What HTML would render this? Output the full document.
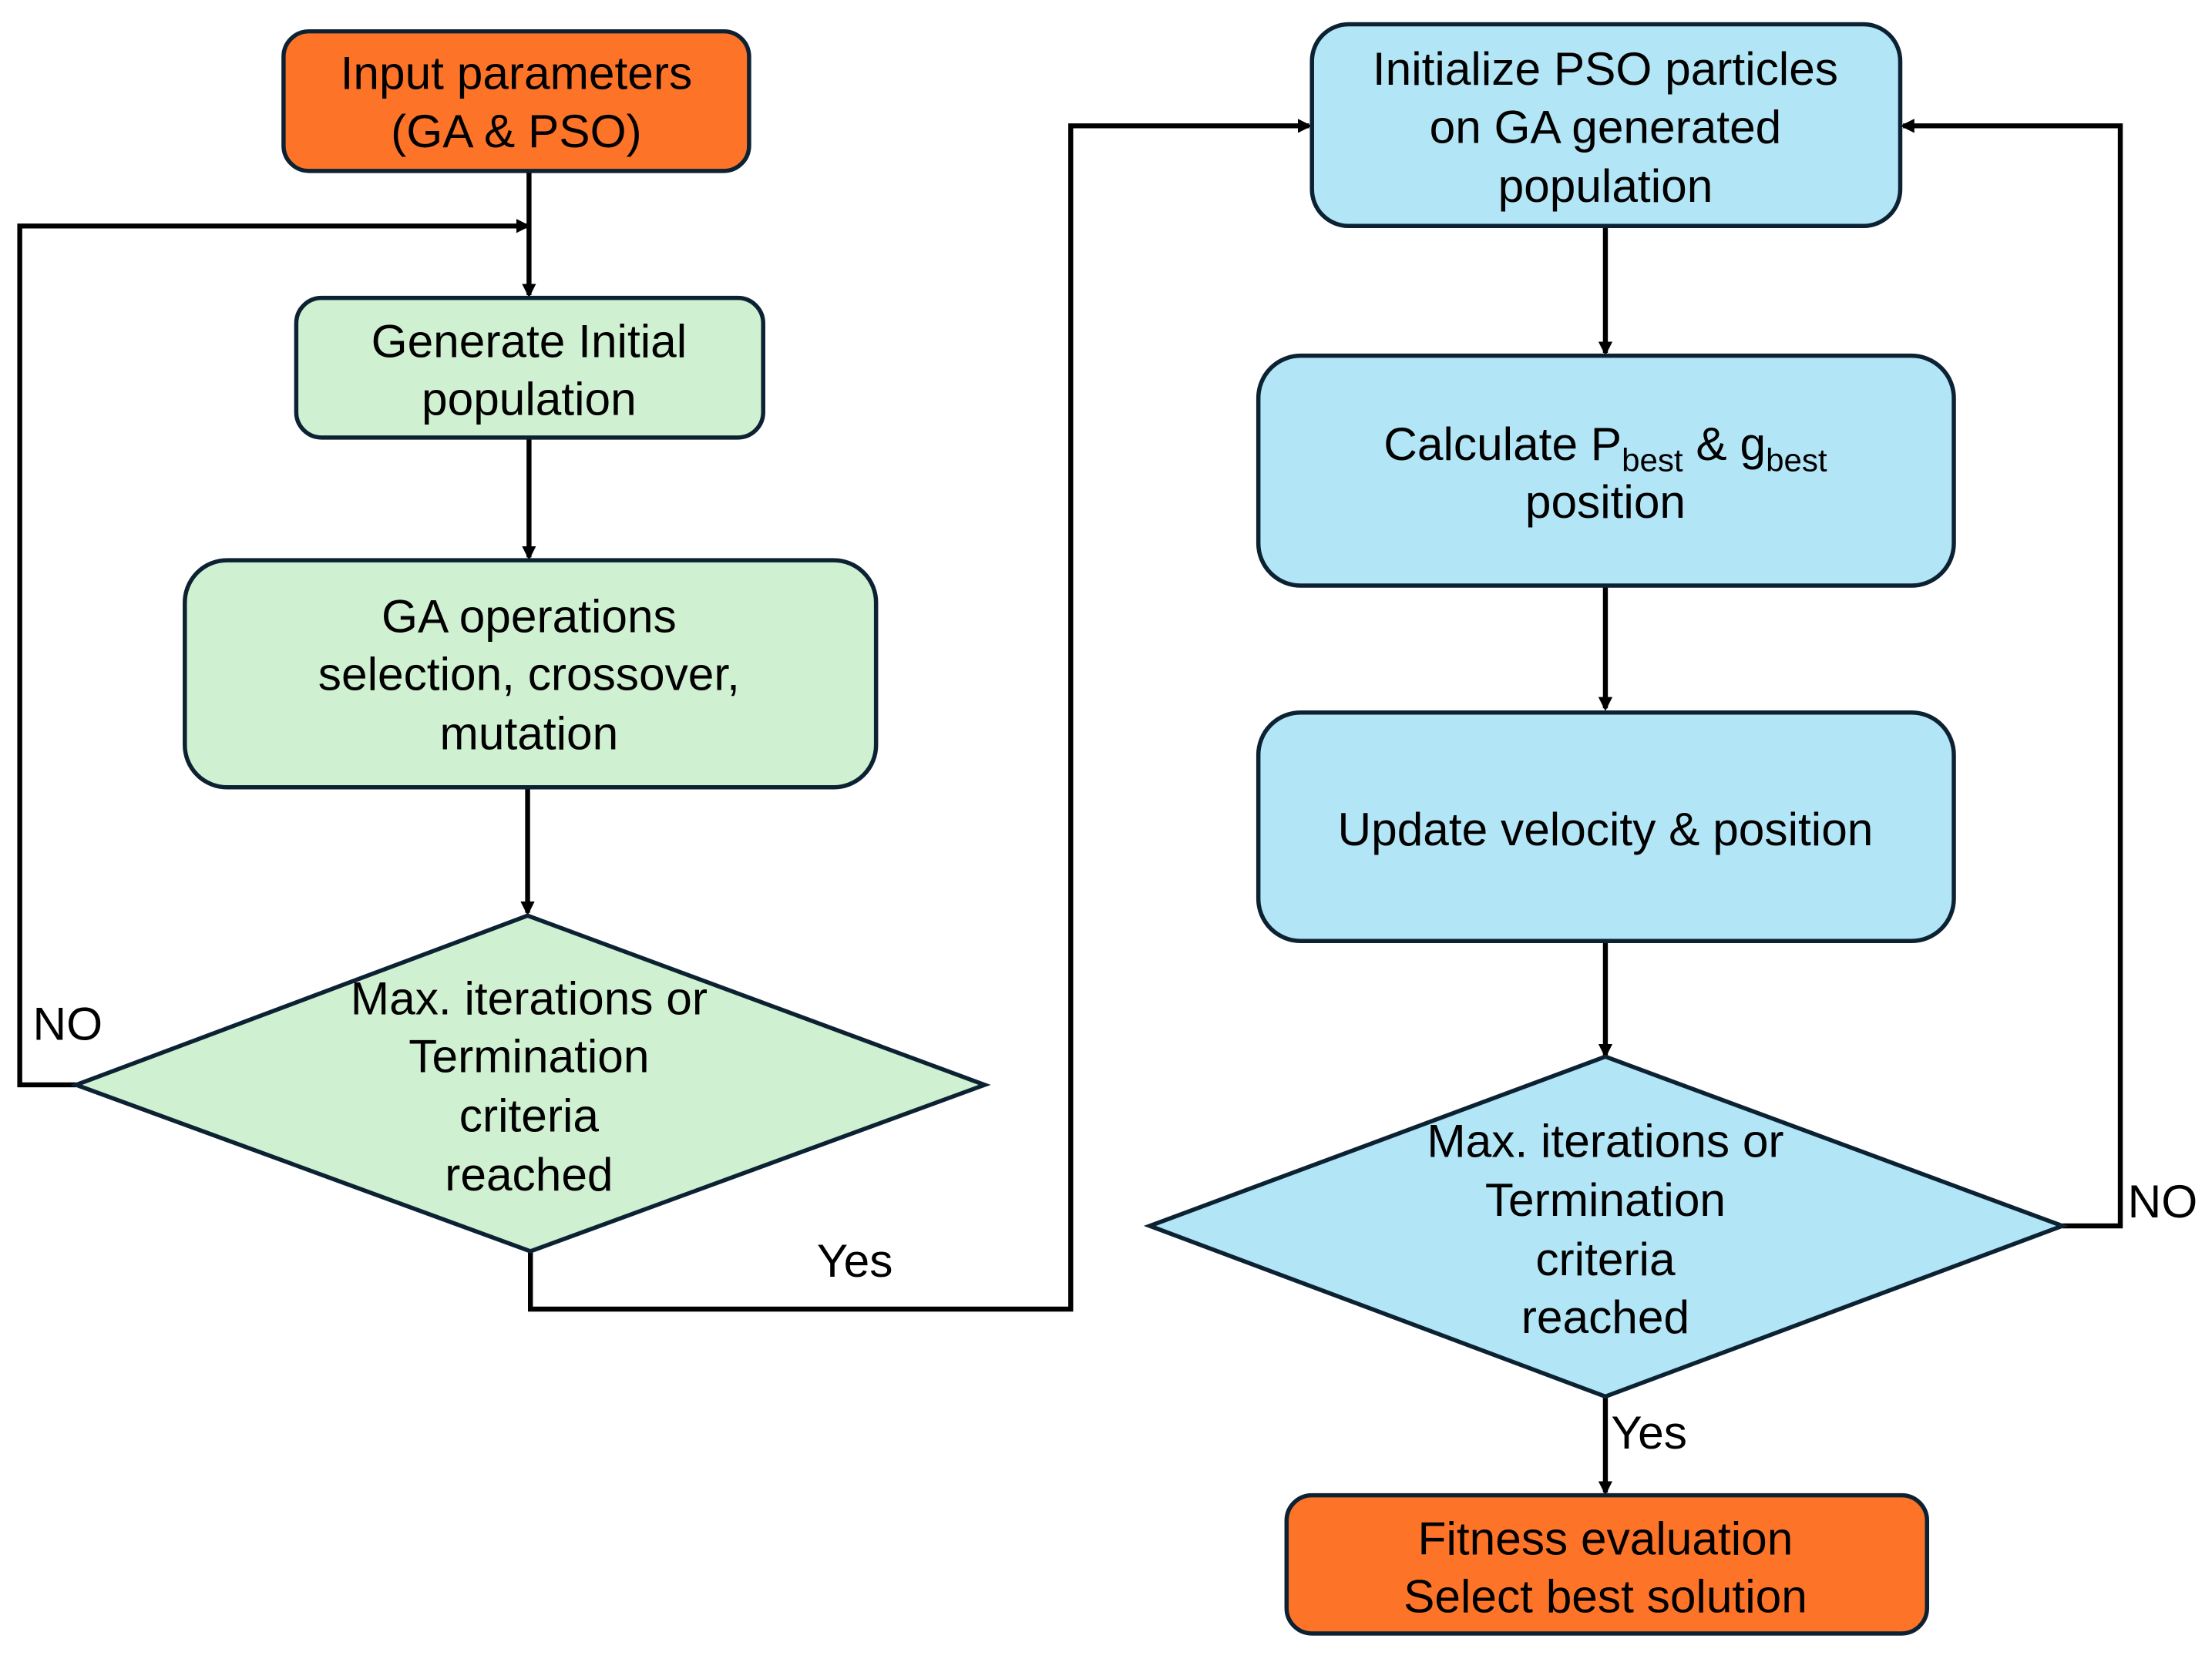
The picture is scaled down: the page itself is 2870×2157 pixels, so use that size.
<!DOCTYPE html>
<html><head><meta charset="utf-8"><style>
html,body{margin:0;padding:0;background:#fff;}
svg{display:block;}
text{font-family:"Liberation Sans",Arial,sans-serif;font-size:33px;fill:#000;text-anchor:middle;}
</style></head><body>
<svg width="2870" height="2157" viewBox="0 0 1568 1178" xmlns="http://www.w3.org/2000/svg">
<defs><marker id="a" markerWidth="10" markerHeight="10" refX="8" refY="5" orient="auto" markerUnits="userSpaceOnUse"><path d="M0,0 L10,5 L0,10 z" fill="#000"/></marker></defs>
<g stroke="#000" stroke-width="3.5" fill="none">
<line x1="375" y1="121" x2="375" y2="209" marker-end="url(#a)"/>
<polyline points="54,769 14,769 14,160 374,160" marker-end="url(#a)"/>
<line x1="375" y1="310" x2="375" y2="395" marker-end="url(#a)"/>
<line x1="374" y1="558" x2="374" y2="647" marker-end="url(#a)"/>
<polyline points="376,887 376,928 759,928 759,89 928,89" marker-end="url(#a)"/>
<line x1="1138" y1="160" x2="1138" y2="250" marker-end="url(#a)"/>
<line x1="1138" y1="415" x2="1138" y2="502" marker-end="url(#a)"/>
<line x1="1138" y1="667" x2="1138" y2="748" marker-end="url(#a)"/>
<polyline points="1462,869 1503,869 1503,89 1349,89" marker-end="url(#a)"/>
<line x1="1138" y1="990" x2="1138" y2="1058" marker-end="url(#a)"/>
</g>
<g stroke="#0c2233" stroke-width="3">
<rect x="201" y="22" width="330" height="99" rx="18" fill="#fd7428"/>
<rect x="210" y="211" width="331" height="99" rx="18" fill="#cff0d1"/>
<rect x="131" y="397" width="490" height="161" rx="30" fill="#cff0d1"/>
<polygon points="374,649 698,769 376,887 54,769" fill="#cff0d1"/>
<rect x="930" y="17" width="417" height="143" rx="26" fill="#b2e5f5"/>
<rect x="892" y="252" width="493" height="163" rx="30" fill="#b2e5f5"/>
<rect x="892" y="505" width="493" height="162" rx="30" fill="#b2e5f5"/>
<polygon points="1138,749 1462,869 1138,990 815,869" fill="#b2e5f5"/>
<rect x="912" y="1060" width="454" height="98" rx="18" fill="#fd7428"/>
</g>
<text x="366" y="63">Input parameters</text>
<text x="366" y="104">(GA &amp; PSO)</text>
<text x="375" y="253">Generate Initial</text>
<text x="375" y="294">population</text>
<text x="375" y="448">GA operations</text>
<text x="375" y="489">selection, crossover,</text>
<text x="375" y="531">mutation</text>
<text x="375" y="719">Max. iterations or</text>
<text x="375" y="760">Termination</text>
<text x="375" y="802">criteria</text>
<text x="375" y="844">reached</text>
<text x="48" y="737">NO</text>
<text x="606" y="905">Yes</text>
<text x="1138" y="60">Initialize PSO particles</text>
<text x="1138" y="101">on GA generated</text>
<text x="1138" y="143">population</text>
<text x="1138" y="326">Calculate P<tspan font-size="23" dy="8">best</tspan><tspan dy="-8"> &amp; g</tspan><tspan font-size="23" dy="8">best</tspan></text>
<text x="1138" y="367">position</text>
<text x="1138" y="599">Update velocity &amp; position</text>
<text x="1138" y="820">Max. iterations or</text>
<text x="1138" y="862">Termination</text>
<text x="1138" y="904">criteria</text>
<text x="1138" y="945">reached</text>
<text x="1533" y="863">NO</text>
<text x="1169" y="1027">Yes</text>
<text x="1138" y="1102">Fitness evaluation</text>
<text x="1138" y="1143">Select best solution</text>
</svg>
</body></html>
